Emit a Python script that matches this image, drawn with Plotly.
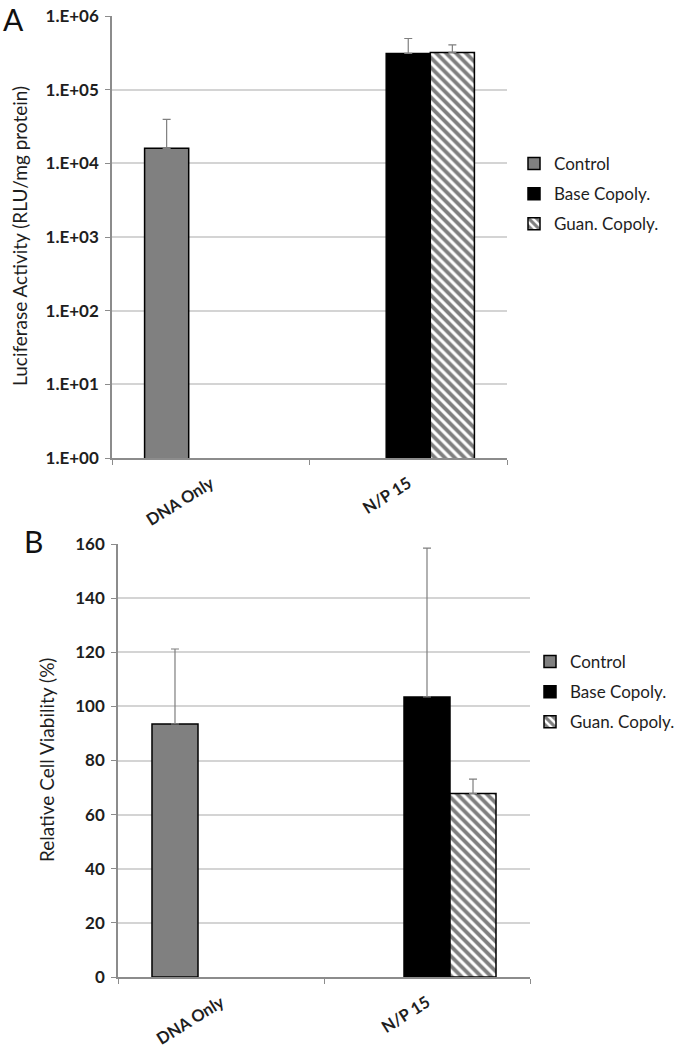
import plotly.graph_objects as go

categories = ["DNA Only", "N/P 15"]
series_names = ["Control", "Base Copoly.", "Guan. Copoly."]

# Panel A: luciferase activity (RLU/mg protein), log scale
luc_control = [1.6e4, None]
luc_control_err = [2.35e4, None]
luc_base = [None, 3.1e5]
luc_base_err = [None, 1.85e5]
luc_guan = [None, 3.2e5]
luc_guan_err = [None, 0.85e5]
luc_tickvals = [1, 10, 100, 1e3, 1e4, 1e5, 1e6]
luc_ticktext = ["1.E+00", "1.E+01", "1.E+02", "1.E+03", "1.E+04", "1.E+05", "1.E+06"]

# Panel B: relative cell viability (%)
via_control = [93.5, None]
via_control_err = [27.7, None]
via_base = [None, 103.5]
via_base_err = [None, 55.0]
via_guan = [None, 67.8]
via_guan_err = [None, 5.3]
via_tickvals = [0, 20, 40, 60, 80, 100, 120, 140, 160]

FONT = "Lato"
TXT = "#1e1e1e"
W, H = 678, 1050


def px(v):
    return v / W


def py(v):
    return 1 - v / H


def styles():
    return [
        dict(color="#808080", line=dict(color="#000000", width=1.5)),
        dict(color="#000000", line=dict(color="#000000", width=1.5)),
        dict(color="#ffffff", line=dict(color="#000000", width=1.5),
             pattern=dict(shape="\\", fgcolor="#000000", bgcolor="#ffffff",
                          size=7, solidity=0.55, fillmode="overlay")),
    ]


def err(vals):
    return dict(type="data", symmetric=False, array=vals,
                arrayminus=[0 if v is not None else None for v in vals],
                color="#7f7f7f", thickness=1.2, width=4)


fig = go.Figure()

top = [(luc_control, luc_control_err), (luc_base, luc_base_err), (luc_guan, luc_guan_err)]
for i, ((vals, e), st, name) in enumerate(zip(top, styles(), series_names)):
    fig.add_trace(go.Bar(x=categories, y=vals, name=name, marker=st, error_y=err(e),
                         xaxis="x", yaxis="y", legend="legend", legendgroup=f"a{i}",
                         offsetgroup=str(i)))

bot = [(via_control, via_control_err), (via_base, via_base_err), (via_guan, via_guan_err)]
for i, ((vals, e), st, name) in enumerate(zip(bot, styles(), series_names)):
    fig.add_trace(go.Bar(x=categories, y=vals, name=name, marker=st, error_y=err(e),
                         xaxis="x2", yaxis="y2", legend="legend2", legendgroup=f"b{i}",
                         offsetgroup=str(i)))

axis_common = dict(showline=True, linecolor="#8c8c8c", linewidth=1.5, ticks="outside",
                   tickcolor="#8c8c8c", ticklen=5, tickwidth=1.2,
                   ticklabeloverflow="allow")

xfont = dict(size=16.5, family=FONT, weight="bold", color=TXT)
yfont = dict(size=17, family=FONT, weight="bold", color=TXT)
lfont = dict(size=17, family=FONT, color=TXT)

fig.update_layout(
    width=W, height=H,
    margin=dict(l=0, r=0, t=0, b=0, autoexpand=False),
    paper_bgcolor="white", plot_bgcolor="white",
    font=dict(family=FONT, color=TXT),
    barmode="group", bargap=0.33, bargroupgap=0,
    xaxis=dict(domain=[px(112), px(507)], anchor="y", type="category",
               tickson="boundaries", tickangle=-32, tickfont=xfont,
               ticklabelstandoff=8, showgrid=False, **axis_common),
    yaxis=dict(domain=[py(458), py(16)], anchor="x", type="log", range=[0, 6],
               tickvals=luc_tickvals, ticktext=luc_ticktext, tickfont=yfont,
               ticklabelstandoff=3,
               showgrid=True, gridcolor="#d4d4d4", gridwidth=1.5, **axis_common),
    xaxis2=dict(domain=[px(118), px(530)], anchor="y2", type="category",
                tickson="boundaries", tickangle=-32, tickfont=xfont,
                ticklabelstandoff=8, showgrid=False, **axis_common),
    yaxis2=dict(domain=[py(977), py(544)], anchor="x2", range=[0, 160],
                tickvals=via_tickvals, tickfont=yfont, ticklabelstandoff=3,
                showgrid=True, gridcolor="#d4d4d4", gridwidth=1.5, **axis_common),
    legend=dict(x=px(514), y=py(146), xanchor="left", yanchor="top",
                font=lfont, traceorder="grouped", tracegroupgap=5, itemwidth=30,
                bgcolor="rgba(0,0,0,0)"),
    legend2=dict(x=px(530), y=py(644), xanchor="left", yanchor="top",
                 font=lfont, traceorder="grouped", tracegroupgap=5, itemwidth=30,
                 bgcolor="rgba(0,0,0,0)"),
    annotations=[
        dict(text="A", x=px(13), y=py(19), xref="paper", yref="paper",
             xanchor="center", yanchor="middle",
             showarrow=False, font=dict(size=30, family=FONT, color="#111")),
        dict(text="B", x=px(33), y=py(541), xref="paper", yref="paper",
             xanchor="center", yanchor="middle",
             showarrow=False, font=dict(size=30, family=FONT, color="#111")),
        dict(text="Luciferase Activity (RLU/mg protein)", x=px(20), y=py(236),
             xref="paper", yref="paper", xanchor="center", yanchor="middle",
             textangle=-90, showarrow=False,
             font=dict(size=19, family=FONT, color=TXT)),
        dict(text="Relative Cell Viability (%)", x=px(46), y=py(760),
             xref="paper", yref="paper", xanchor="center", yanchor="middle",
             textangle=-90, showarrow=False,
             font=dict(size=19, family=FONT, color=TXT)),
    ],
)

fig.write_html("out.html", config={"displayModeBar": False},
               post_script="document.body.style.margin='0';document.body.style.padding='0';")
